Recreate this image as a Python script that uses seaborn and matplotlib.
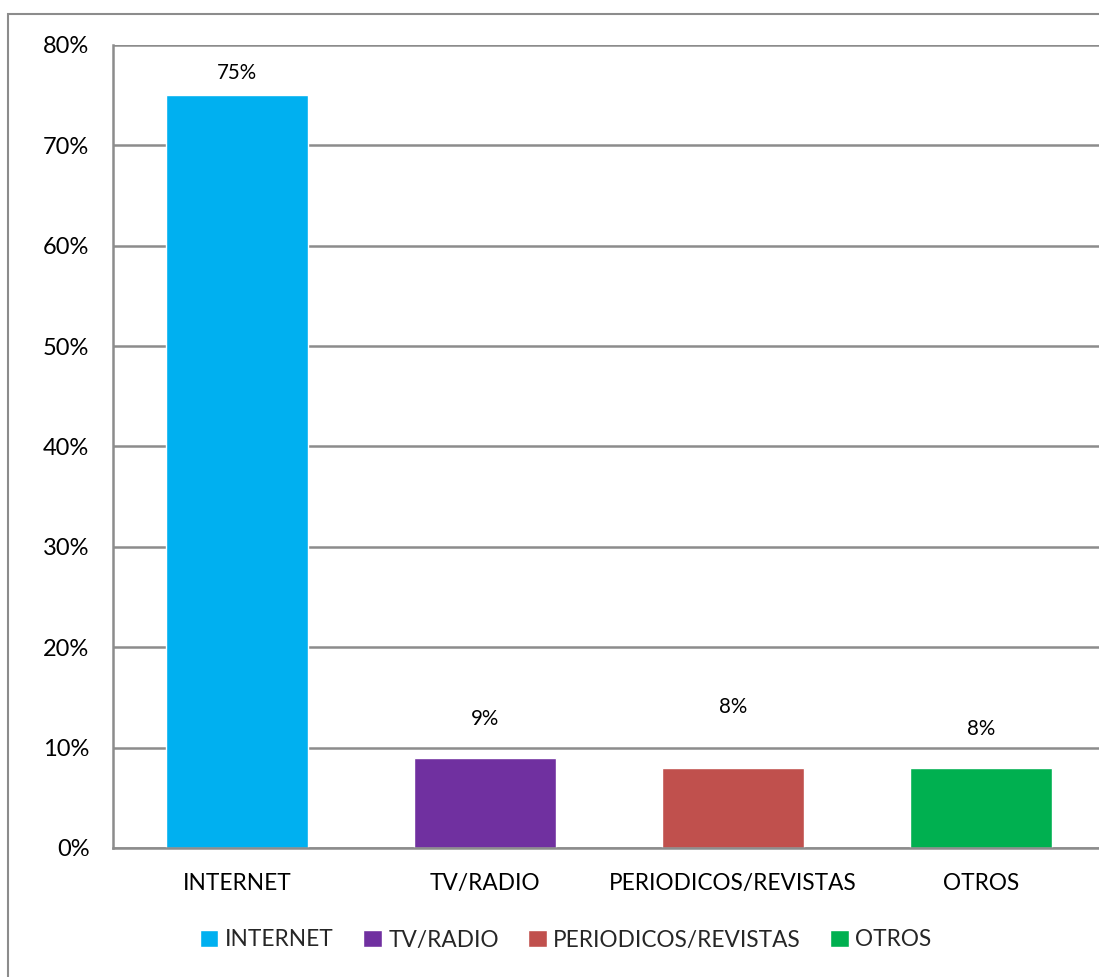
import matplotlib
matplotlib.use("Agg")
import matplotlib.pyplot as plt
from matplotlib.patches import Rectangle, Patch
import pandas as pd
import seaborn as sns

sns.set_theme(style="white")
plt.rcParams['font.family'] = ['Lato', 'DejaVu Sans']

categories = ['INTERNET', 'TV/RADIO', 'PERIODICOS/REVISTAS', 'OTROS']
values = [75, 9, 8, 8]
colors = ['#00B0F0', '#7030A0', '#C0504D', '#00B050']
# label offsets above bar tops (points), as in the source chart
label_offsets = [16, 28, 44, 28]

df = pd.DataFrame({'medio': categories, 'pct': values})

fig = plt.figure(figsize=(10.99, 9.77), dpi=100)
fig.patches.append(Rectangle((8 / 1099, -0.05), 1.2, 0.05 + (1 - 14 / 977),
                             transform=fig.transFigure, fill=False,
                             edgecolor='#8c8c8c', linewidth=1.5))
ax = fig.add_axes([113 / 1099, 1 - 848 / 977, 992 / 1099, (848 - 45) / 977])

sns.barplot(data=df, x='medio', y='pct', hue='medio', palette=colors,
            width=0.57, legend=False, ax=ax, saturation=1)

ax.set_ylim(0, 80)
ax.set_yticks(range(0, 81, 10))
ax.set_yticklabels([f'{v}%' for v in range(0, 81, 10)])
ax.yaxis.grid(True, color='#8c8c8c', linewidth=1.8)
ax.set_axisbelow(True)
ax.set_xlabel('')
ax.set_ylabel('')
for side in ['top', 'right']:
    ax.spines[side].set_visible(False)
for side in ['left', 'bottom']:
    ax.spines[side].set_color('#8c8c8c')
    ax.spines[side].set_linewidth(1.8)
ax.tick_params(axis='x', labelsize=16.3, colors='black', length=0, pad=18)
ax.tick_params(axis='y', labelsize=17, colors='black', length=0, pad=17)

for i, (v, off) in enumerate(zip(values, label_offsets)):
    ax.annotate(f'{v}%', (i, v), xytext=(0, off), textcoords='offset points',
                ha='center', va='center', fontsize=14.8, color='black')

handles = [Patch(facecolor=c, label=l) for c, l in zip(colors, categories)]
fig.legend(handles=handles, loc='center', bbox_to_anchor=(566 / 1099, 1 - 940 / 977),
           ncol=4, frameon=False, fontsize=16.3, handlelength=0.8, handleheight=0.8,
           handletextpad=0.3, columnspacing=1.3)

fig.savefig('out.png', dpi=100)
